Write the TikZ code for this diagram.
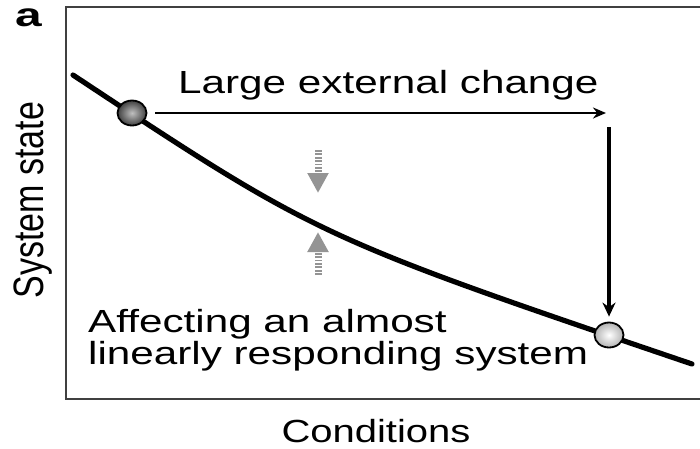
\documentclass[tikz,border=0pt]{standalone}
\usepackage{fontspec}
\setmainfont{Liberation Sans}
\usetikzlibrary{arrows.meta,shapes.geometric}
\newcommand{\wide}[2][1.32]{\scalebox{#1}[1]{#2}}
\begin{document}
\begin{tikzpicture}[x=1pt,y=-1pt,
  txt/.style={inner sep=0pt, font=\fontsize{32}{38}\selectfont},
  frame/.style={draw=black!75, line width=2.2pt},
  curve/.style={line width=5.2pt, line cap=round},
  ballA/.style={ellipse, draw=black, line width=1.8pt, minimum width=29pt, minimum height=25pt, inner sep=0pt, shading=radial, inner color=black!25, outer color=black!75},
  ballB/.style={ellipse, draw=black, line width=1.8pt, minimum width=29pt, minimum height=25pt, inner sep=0pt, shading=radial, inner color=white, outer color=black!30},
  harrow/.style={line width=2.4pt, -{Stealth[length=13pt,width=11pt]}},
  varrow/.style={line width=3.4pt, -{Stealth[length=14pt,width=13pt]}},
  garrow/.style={draw=black!42, line width=7pt, dash pattern=on 1.8pt off 1.6pt, -{Triangle[length=20pt,width=20pt]}}
]
\useasboundingbox (0,0) rectangle (700,448);
\fill[white] (0,0) rectangle (700,448);
% frame
\draw[frame] (700,7) -- (66,7) -- (66,399) -- (700,399);
% curve
\draw[curve] (73,75) .. controls (318,237) .. (692,364);
% balls
\node[ballA] (b1) at (132,113) {};
\node[ballB] (b2) at (609,335) {};
% arrows
\coordinate (hend) at (606,113);
\coordinate (vstart) at (609,127);
\draw[harrow, shorten <=8pt] (b1) -- (hend);
\draw[varrow, shorten >=5pt] (vstart) -- (b2.north);
% gray arrows
\coordinate (g1s) at (318,150);
\coordinate (g1e) at (318,193);
\coordinate (g2s) at (318,275);
\coordinate (g2e) at (318,232);
\draw[garrow] (g1s) -- (g1e);
\draw[garrow] (g2s) -- (g2e);
% texts
\node[txt, anchor=base west] (lab) at (15,26) {\wide[1.45]{\fontsize{33}{38}\selectfont\bfseries a}};
\node[txt, anchor=base west] (large) at (178,93) {\wide{Large external change}};
\node[txt, anchor=base west] (aff1) at (88,332) {\wide{Affecting an almost}};
\node[txt, anchor=base west] (aff2) at (88,364) {\wide{linearly responding system}};
\node[txt, anchor=base] (cond) at (376,442) {\wide[1.25]{Conditions}};
\node[txt, anchor=center] (sys) at (33,200) {\wide[1.25]{\rotatebox{90}{\fontsize{34}{38}\selectfont System state}}};
\end{tikzpicture}
\end{document}
